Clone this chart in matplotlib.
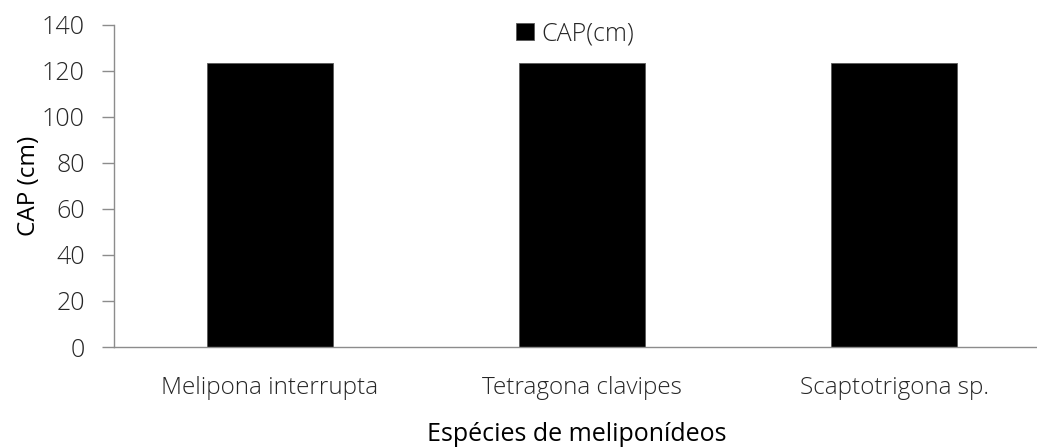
import matplotlib.pyplot as plt
import numpy as np

# Data
Especies = ["Melipona interrupta", "Tetragona clavipes", "Scaptotrigona sp."]
CAP = [123.5, 123.5, 123.5]
YTicks = [0, 20, 40, 60, 80, 100, 120, 140]

plt.rcParams['font.family'] = ['Open Sans', 'DejaVu Sans']

W, H = 1037, 448
fig = plt.figure(figsize=(W/100, H/100), dpi=100)
# plot area (Excel-like, cropped on the right)
ax = fig.add_axes([114/W, 101/H, (1050-114)/W, (347-25)/H])

x = np.arange(len(Especies))
ax.bar(x, CAP, width=0.407, color='black', edgecolor='#595959', linewidth=0.6,
       label='CAP(cm)', zorder=2)

ax.set_xlim(-0.5, len(Especies) - 0.5)
ax.set_ylim(0, 140)
ax.set_yticks(YTicks)
ax.set_xticks(x)
ax.set_xticklabels(Especies, fontsize=17.5, fontweight='light', color='#262626')
ax.set_yticklabels([str(v) for v in YTicks], fontsize=18, fontweight='light', color='#262626')

ax.tick_params(axis='y', direction='out', length=9, width=1, color='#8c8c8c', pad=12)
ax.tick_params(axis='x', length=0, pad=21)

for side in ['top', 'right']:
    ax.spines[side].set_visible(False)
for side in ['left', 'bottom']:
    ax.spines[side].set_color('#8c8c8c')
    ax.spines[side].set_linewidth(1)

ax.set_ylabel('CAP (cm)', fontsize=17.5, color='black')
ax.yaxis.set_label_coords(-(114-41)/(1050-114), 0.5)
ax.set_xlabel('Espécies de meliponídeos', fontsize=18, color='black')
ax.xaxis.set_label_coords((577-114)/(1050-114), -(422-347)/(347-25))

leg = ax.legend(loc='center', bbox_to_anchor=((575-114)/(1050-114), 1-(34-25)/(347-25)),
                frameon=False, fontsize=18, handlelength=0.7, handleheight=0.7,
                handletextpad=0.3, borderaxespad=0)
for t in leg.get_texts():
    t.set_fontweight('light')
    t.set_color('#262626')

fig.savefig('out.png', dpi=100)
